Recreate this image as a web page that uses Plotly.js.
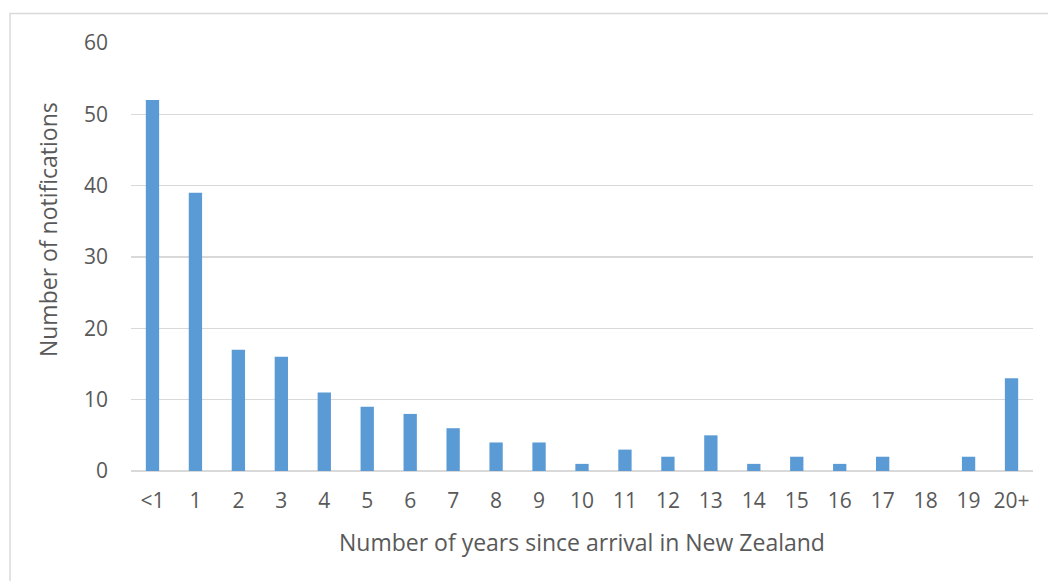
<!DOCTYPE html>
<html>
<head>
<meta charset="utf-8">
<script src="https://cdn.plot.ly/plotly-3.0.1.min.js"></script>
<style>html,body{margin:0;padding:0;background:#fff;}#chart{width:1048px;height:581px;}</style>
</head>
<body>
<div id="chart"></div>
<script>
const categories = ["<1","1","2","3","4","5","6","7","8","9","10","11","12","13","14","15","16","17","18","19","20+"];
const notifications = [52,39,17,16,11,9,8,6,4,4,1,3,2,5,1,2,1,2,0,2,13];
const yTicks = [0,10,20,30,40,50,60];
const xTitle = "Number of years since arrival in New Zealand";
const yTitle = "Number of notifications";

const font = "Open Sans, Liberation Sans, sans-serif";
Plotly.newPlot("chart", [{
  type: "bar",
  x: categories,
  y: notifications,
  marker: {color: "#5b9bd5"},
  hoverinfo: "x+y"
}], {
  width: 1048, height: 581,
  margin: {l: 131, r: 15, t: 43, b: 110},
  paper_bgcolor: "#fff", plot_bgcolor: "#fff",
  bargap: 0.69,
  showlegend: false,
  font: {family: font, color: "#595959", size: 21},
  xaxis: {
    type: "category",
    tickfont: {size: 21, color: "#595959"},
    showgrid: false, zeroline: false,
    showline: false, ticks: "",
    ticklabelstandoff: 15
  },
  yaxis: {
    range: [0, 60],
    tickvals: yTicks,
    tickfont: {size: 21, color: "#595959"},
    showgrid: true, gridcolor: "#d9d9d9", gridwidth: 1.5,
    zeroline: true, zerolinecolor: "#d9d9d9", zerolinewidth: 2,
    showline: false, ticks: "", ticklabelstandoff: 22
  },
  annotations: [
    {text: xTitle, xref: "paper", yref: "paper", x: 0.5, y: -0.166, xanchor: "center", yanchor: "middle",
     showarrow: false, font: {size: 23, color: "#595959"}},
    {text: yTitle, xref: "paper", yref: "paper", x: -0.092, y: 0.563, xanchor: "center", yanchor: "middle",
     textangle: -90, showarrow: false, font: {size: 23, color: "#595959"}}
  ],
  shapes: [{
    type: "rect", xref: "paper", yref: "paper",
    x0: -0.1341, x1: 1.05, y0: -0.4, y1: 1.0689,
    line: {color: "#d9d9d9", width: 1.5}, fillcolor: "rgba(0,0,0,0)", layer: "below"
  }]
}, {displayModeBar: false, staticPlot: true});
</script>
</body>
</html>
